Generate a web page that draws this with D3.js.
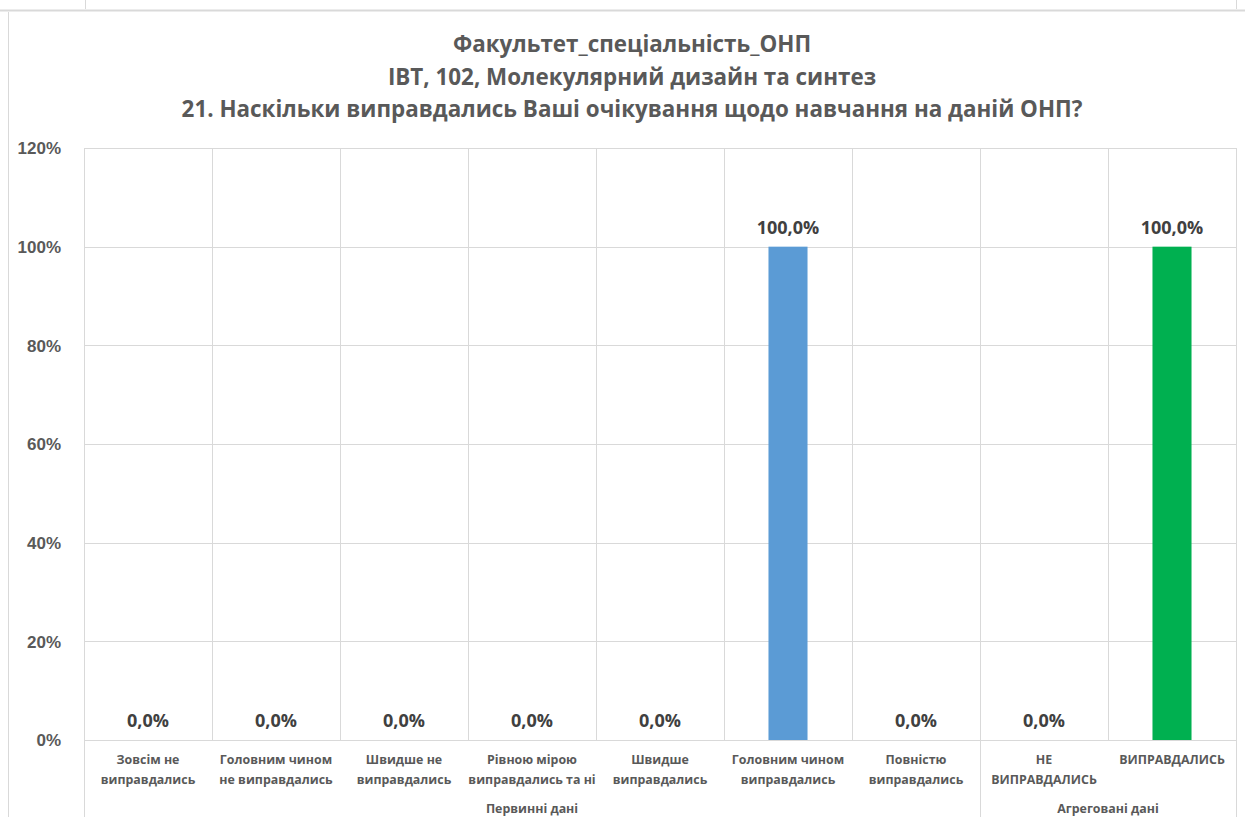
<!DOCTYPE html>
<html>
<head>
<meta charset="utf-8">
<script src="https://cdn.jsdelivr.net/npm/d3@7"></script>
<style>
  body { margin: 0; background: #fff; }
  text { font-family: "Liberation Sans Narrow", "Open Sans", sans-serif; font-weight: bold; fill: #595959; }
</style>
</head>
<body>
<div id="chart"></div>
<script>
var titleLines = ["Факультет_спеціальність_ОНП", "ІВТ, 102, Молекулярний дизайн та синтез", "21. Наскільки виправдались Ваші очікування щодо навчання на даній ОНП?"]
var categories = ["Зовсім не\nвиправдались", "Головним чином\nне виправдались", "Швидше не\nвиправдались", "Рівною мірою\nвиправдались та ні", "Швидше\nвиправдались", "Головним чином\nвиправдались", "Повністю\nвиправдались", "НЕ\nВИПРАВДАЛИСЬ", "ВИПРАВДАЛИСЬ"]
var values = [0, 0, 0, 0, 0, 1, 0, 0, 1]
var barColors = ["#5B9BD5", "#5B9BD5", "#5B9BD5", "#5B9BD5", "#5B9BD5", "#5B9BD5", "#5B9BD5", "#00B050", "#00B050"]
var groups = [{name: "Первинні дані", from: 0, to: 6}, {name: "Агреговані дані", from: 7, to: 8}]
var yTicks = [0, 0.2, 0.4, 0.6, 0.8, 1.0, 1.2]

var width = 1245, height = 817
var margin = {top: 148, right: 9, bottom: 77, left: 84}

var svg = d3.select("#chart").append("svg")
  .attr("width", width)
  .attr("height", height)

// frame bits from the sheet around the chart
svg.append("line").attr("x1", 0).attr("x2", width).attr("y1", 10.5).attr("y2", 10.5)
  .attr("stroke", "#d9d9d9").attr("stroke-width", 2)
svg.append("line").attr("x1", 8.5).attr("x2", 8.5).attr("y1", 12).attr("y2", height)
  .attr("stroke", "#d9d9d9")
svg.selectAll(".cellline").data([85.5, 1236.5]).enter().append("line")
  .attr("x1", d => d).attr("x2", d => d).attr("y1", 0).attr("y2", 9)
  .attr("stroke", "#d9d9d9")

var x = d3.scaleBand()
  .domain(categories)
  .range([margin.left, width - margin.right])
  .padding(0)

var y = d3.scaleLinear()
  .domain([0, 1.2])
  .range([height - margin.bottom, margin.top])

// title
svg.selectAll(".title").data(titleLines).enter().append("text")
  .attr("x", 632)
  .attr("y", (d, i) => 52 + i * 32.5)
  .attr("text-anchor", "middle")
  .style("font-size", "22.4px")
  .text(d => d)

// horizontal gridlines
svg.append("g")
  .selectAll("line").data(yTicks).enter().append("line")
  .attr("x1", margin.left).attr("x2", width - margin.right)
  .attr("y1", d => Math.round(y(d)) + 0.5).attr("y2", d => Math.round(y(d)) + 0.5)
  .attr("stroke", "#d9d9d9")

// vertical gridlines between categories
svg.append("g")
  .selectAll("line").data(categories).enter().append("line")
  .attr("x1", d => Math.round(x(d)) + 0.5).attr("x2", d => Math.round(x(d)) + 0.5)
  .attr("y1", y(1.2)).attr("y2", y(0))
  .attr("stroke", "#d9d9d9")
svg.append("line")
  .attr("x1", width - margin.right + 0.5).attr("x2", width - margin.right + 0.5)
  .attr("y1", y(1.2)).attr("y2", y(0))
  .attr("stroke", "#d9d9d9")

// y axis labels
var yAxis = svg.append("g")
  .attr("transform", "translate(" + (margin.left - 20) + ",0)")
  .call(d3.axisLeft(y).tickValues(yTicks).tickFormat(d3.format(".0%")).tickSize(0))
yAxis.select(".domain").remove()
yAxis.selectAll("text")
  .attr("dy", "0.35em")
  .style("font-size", "17px")
  .style("font-family", "Liberation Sans Narrow, sans-serif")
  .attr("fill", "#595959")

// bars
var barW = x.bandwidth() * 0.305
svg.append("g")
  .selectAll("rect").data(values).enter().append("rect")
  .attr("x", (d, i) => x(categories[i]) + x.bandwidth() / 2 - barW / 2)
  .attr("y", d => y(d))
  .attr("width", barW)
  .attr("height", d => y(0) - y(d))
  .attr("fill", (d, i) => barColors[i])

// data labels
var uk = d3.formatLocale({decimal: ",", thousands: " ", grouping: [3], currency: ["", ""]})
var fmt = uk.format(".1%")
svg.append("g")
  .selectAll("text").data(values).enter().append("text")
  .attr("x", (d, i) => x(categories[i]) + x.bandwidth() / 2)
  .attr("y", d => y(d) - 13)
  .attr("text-anchor", "middle")
  .style("font-size", "18px")
  .style("fill", "#404040")
  .text(d => fmt(d))

// x axis line
svg.append("line")
  .attr("x1", margin.left).attr("x2", width - margin.right)
  .attr("y1", Math.round(y(0)) + 0.5).attr("y2", Math.round(y(0)) + 0.5)
  .attr("stroke", "#d9d9d9")

// category labels
var catG = svg.append("g")
categories.forEach(function(c) {
  var t = catG.append("text")
    .attr("x", x(c) + x.bandwidth() / 2)
    .attr("y", y(0) + 24)
    .attr("text-anchor", "middle")
    .style("font-size", "12.4px")
  c.split("\n").forEach(function(line, j) {
    t.append("tspan").attr("x", x(c) + x.bandwidth() / 2).attr("dy", j == 0 ? 0 : 20).text(line)
  })
})

// group separators and labels
var seps = [x(categories[0]), x(categories[7]), width - margin.right]
svg.append("g").selectAll("line").data(seps).enter().append("line")
  .attr("x1", d => Math.round(d) + 0.5).attr("x2", d => Math.round(d) + 0.5)
  .attr("y1", y(0)).attr("y2", height)
  .attr("stroke", "#d9d9d9")

svg.append("g").selectAll("text").data(groups).enter().append("text")
  .attr("x", d => (x(categories[d.from]) + x(categories[d.to]) + x.bandwidth()) / 2)
  .attr("y", y(0) + 73)
  .attr("text-anchor", "middle")
  .style("font-size", "12.4px")
  .text(d => d.name)
</script>
</body>
</html>
